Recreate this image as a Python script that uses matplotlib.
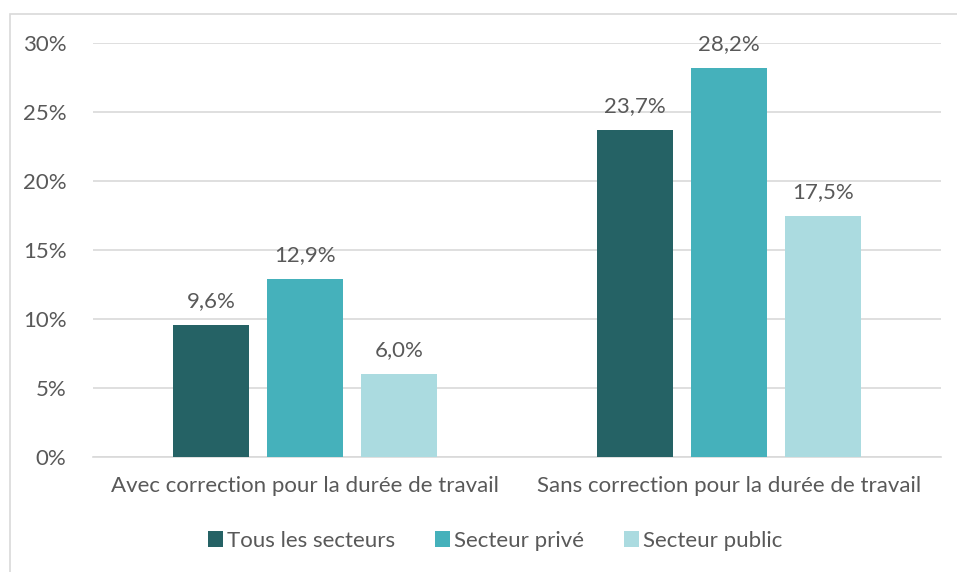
import numpy as np
import matplotlib.pyplot as plt
from matplotlib.patches import Rectangle

categories = ["Avec correction pour la durée de travail", "Sans correction pour la durée de travail"]
series = ["Tous les secteurs", "Secteur privé", "Secteur public"]
tous = [9.6, 23.7]
prive = [12.9, 28.2]
public = [6.0, 17.5]
colors = ["#256265", "#45B1BB", "#ABDBE0"]

plt.rcParams["font.family"] = ["Lato", "DejaVu Sans"]
text_color = "#595959"

fig = plt.figure(figsize=(9.57, 5.72), dpi=100)
ax = fig.add_axes([93 / 957, 1 - 457 / 572, (941 - 93) / 957, (457 - 43) / 572])

x = np.arange(len(categories))
width = 0.18
step = 0.222
for i, (name, vals) in enumerate(zip(series, [tous, prive, public])):
    bars = ax.bar(x + (i - 1) * step, vals, width, color=colors[i], label=name, zorder=3)
    for b, v in zip(bars, vals):
        ax.annotate(f"{v:.1f}%".replace(".", ","), (b.get_x() + b.get_width() / 2, v),
                    xytext=(0, 10), textcoords="offset points", ha="center", va="bottom",
                    fontsize=16, color=text_color)

ax.set_xlim(-0.5, 1.5)
ax.set_ylim(0, 30)
ax.set_yticks(range(0, 31, 5))
ax.set_yticklabels([f"{t}%" for t in range(0, 31, 5)])
ax.set_xticks(x)
ax.set_xticklabels(categories)
ax.yaxis.grid(True, color="#D9D9D9", linewidth=1.2, zorder=0)
for s in ["top", "right", "left"]:
    ax.spines[s].set_visible(False)
ax.spines["bottom"].set_color("#D9D9D9")
ax.spines["bottom"].set_linewidth(1.2)
ax.tick_params(axis="both", length=0, labelsize=16, colors=text_color)
ax.tick_params(axis="y", pad=19)
ax.tick_params(axis="x", pad=14)

leg = fig.legend(loc="center", bbox_to_anchor=(495 / 957, 1 - 541 / 572), ncol=3, frameon=False,
                 fontsize=16, handlelength=0.7, handleheight=0.7, handletextpad=0.15, columnspacing=1.8)
for t in leg.get_texts():
    t.set_color(text_color)

fig.patches.append(Rectangle((10 / 957, -0.1), 1.0, 1 - 14 / 572 + 0.1, transform=fig.transFigure,
                             fill=False, edgecolor="#D9D9D9", linewidth=1.2))

fig.savefig("out.png", dpi=100)
